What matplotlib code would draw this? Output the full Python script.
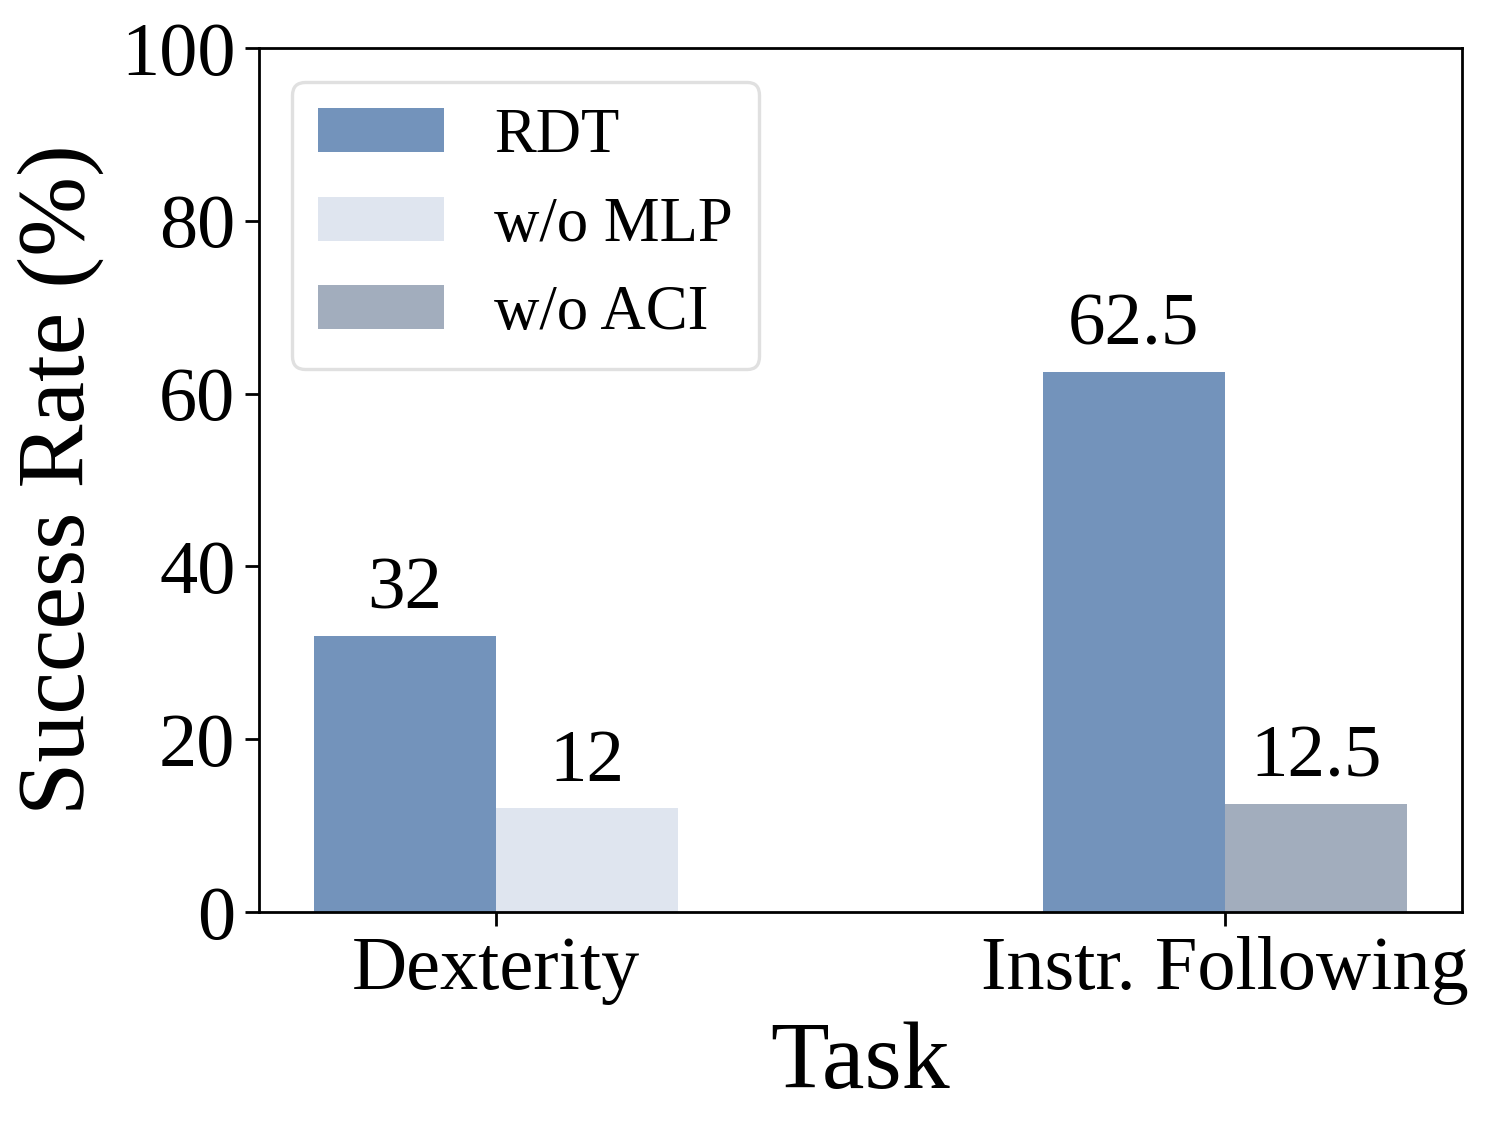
import matplotlib
matplotlib.use("Agg")
import matplotlib.pyplot as plt
import numpy as np

plt.rcParams['font.family'] = ['Liberation Serif', 'DejaVu Serif']

tasks = ["Dexterity", "Instr. Following"]
series = ["RDT", "w/o MLP", "w/o ACI"]
rdt = [32, 62.5]
wo_mlp = [12, np.nan]
wo_aci = [np.nan, 12.5]
labels_rdt = ["32", "62.5"]
labels_mlp = ["12", ""]
labels_aci = ["", "12.5"]
colors = ["#7393bb", "#dfe5ef", "#a2adbd"]

fig = plt.figure(figsize=(7.465, 5.64), dpi=200)
ax = fig.add_axes([259/1493, 1-912/1128, (1462-259)/1493, (912-48)/1128])

x = np.arange(len(tasks))
w = 0.25
b1 = ax.bar(x - w/2, rdt, w, color=colors[0], label=series[0], edgecolor='none')
b2 = ax.bar(x + w/2, wo_mlp, w, color=colors[1], label=series[1], edgecolor='none')
b3 = ax.bar(x + w/2, wo_aci, w, color=colors[2], label=series[2], edgecolor='none')

for bars, labs in [(b1, labels_rdt), (b2, labels_mlp), (b3, labels_aci)]:
    for rect, lab in zip(bars, labs):
        h = rect.get_height()
        if lab and not np.isnan(h):
            ax.annotate(lab, (rect.get_x() + rect.get_width()/2, h),
                        xytext=(0, 4), textcoords='offset points',
                        ha='center', va='bottom', fontsize=27)

ax.set_xlim(-0.325, 1.325)
ax.set_ylim(0, 100)
ax.set_xticks(x)
ax.set_xticklabels(tasks)
ax.set_yticks([0, 20, 40, 60, 80, 100])
ax.tick_params(axis='both', labelsize=27.5, width=1.0, length=5)
for s in ax.spines.values():
    s.set_linewidth(1.0)
ax.set_xlabel("Task", fontsize=34.5, labelpad=6)
ax.set_ylabel("Success Rate (%)", fontsize=34.5, labelpad=6)

leg = ax.legend(loc='upper left', fontsize=22.6, frameon=True, fancybox=True,
                borderpad=0.42, labelspacing=0.48, handlelength=2.0,
                handletextpad=0.8, borderaxespad=0,
                bbox_to_anchor=(0.0274, 0.9606))
leg.get_frame().set_edgecolor('#d9d9d9')
leg.get_frame().set_linewidth(1.2)

fig.savefig("out.png", dpi=200)
